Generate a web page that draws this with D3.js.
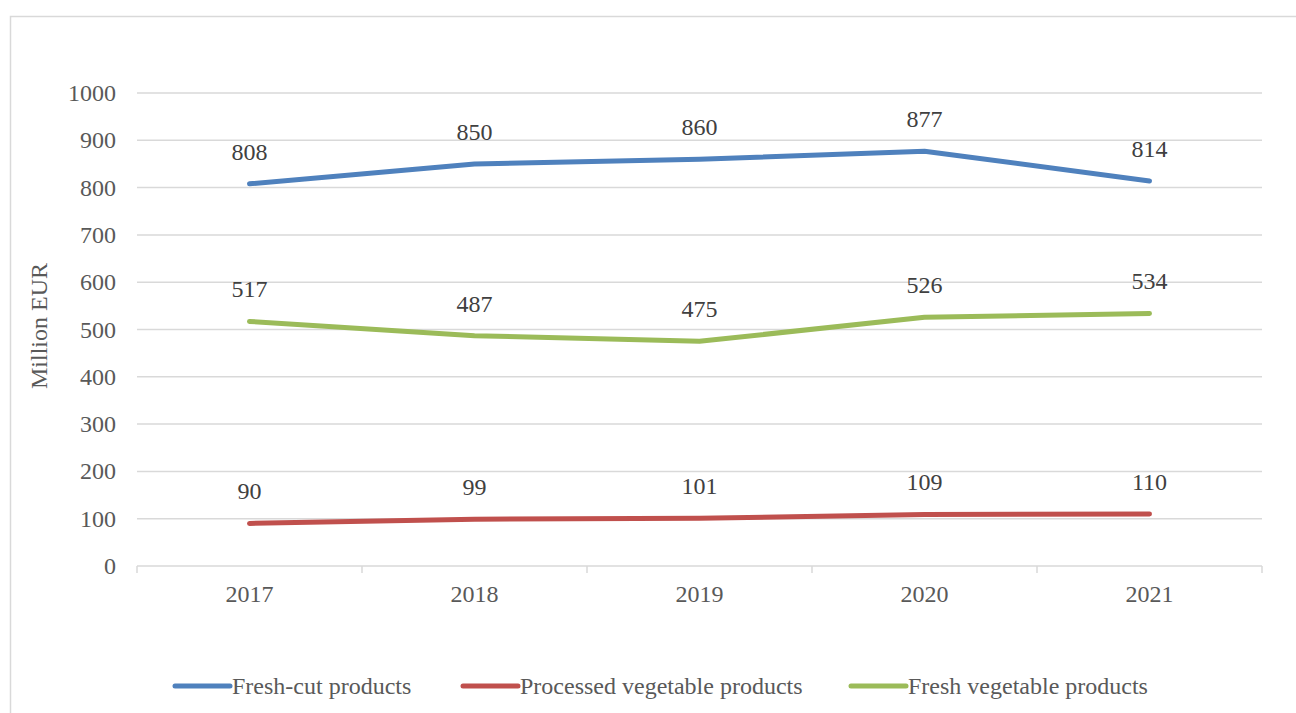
<!DOCTYPE html>
<html><head><meta charset="utf-8">
<script src="https://cdn.jsdelivr.net/npm/d3@7"></script>
<style>body{margin:0;background:#fff;} svg{display:block;} svg text{font-family:"Liberation Serif","Times New Roman",serif;}</style>
</head><body>
<svg id="c" width="1296" height="713"></svg>
<script>
const years = ["2017","2018","2019","2020","2021"];
const freshCut = [808, 850, 860, 877, 814];
const processedVeg = [90, 99, 101, 109, 110];
const freshVeg = [517, 487, 475, 526, 534];
const seriesNames = ["Fresh-cut products","Processed vegetable products","Fresh vegetable products"];
const seriesColors = ["#4f81bd","#c0504d","#9bbb59"];
const yTicks = [0,100,200,300,400,500,600,700,800,900,1000];

(function(){
const series = [freshCut, processedVeg, freshVeg].map((v,i)=>({name:seriesNames[i], color:seriesColors[i], values:v}));

const svg = d3.select("#c");
const fs = 24;
const txt = "#595959";
svg.append("rect").attr("x",10.5).attr("y",16.5).attr("width",1300).attr("height",720)
  .attr("fill","none").attr("stroke","#d9d9d9").attr("stroke-width",1.5);

const pL=137, pR=1262, pT=93, pB=566;
const x = d3.scaleBand().domain(years).range([pL,pR]);
const y = d3.scaleLinear().domain([0,1000]).range([pB,pT]);

svg.append("g").selectAll("line").data(yTicks).join("line")
  .attr("x1",pL).attr("x2",pR).attr("y1",d=>y(d)).attr("y2",d=>y(d))
  .attr("stroke","#d9d9d9").attr("stroke-width",1.5);
svg.append("g").selectAll("text").data(yTicks).join("text")
  .attr("x",116).attr("y",d=>y(d)+8).attr("text-anchor","end")
  .attr("font-size",fs).attr("fill",txt).text(d=>d);
const tickPos = years.map(d=>x(d)).concat([pR]);
svg.append("g").selectAll("line").data(tickPos).join("line")
  .attr("x1",d=>d).attr("x2",d=>d).attr("y1",pB).attr("y2",pB+7)
  .attr("stroke","#d9d9d9").attr("stroke-width",1.5);
svg.append("g").selectAll("text").data(years).join("text")
  .attr("x",d=>x(d)+x.bandwidth()/2).attr("y",602).attr("text-anchor","middle")
  .attr("font-size",fs).attr("fill",txt).text(d=>d);
svg.append("text").attr("transform","translate(47,326) rotate(-90)").attr("text-anchor","middle")
  .attr("font-size",fs).attr("fill",txt).text("Million EUR");

const line = d3.line().x((d,i)=>x(years[i])+x.bandwidth()/2).y(d=>y(d));
series.forEach(s=>{
  svg.append("path").datum(s.values).attr("d",line).attr("fill","none")
    .attr("stroke",s.color).attr("stroke-width",5).attr("stroke-linecap","round").attr("stroke-linejoin","round");
  svg.append("g").selectAll("text").data(s.values).join("text")
    .attr("x",(d,i)=>x(years[i])+x.bandwidth()/2).attr("y",d=>y(d)-24).attr("text-anchor","middle")
    .attr("font-size",fs).attr("fill","#404040").text(d=>d);
});

const legX = [175, 463, 851];
series.forEach((s,i)=>{
  const g = svg.append("g");
  g.append("line").attr("x1",legX[i]).attr("x2",legX[i]+55).attr("y1",686).attr("y2",686)
    .attr("stroke",s.color).attr("stroke-width",5).attr("stroke-linecap","round");
  g.append("text").attr("x",legX[i]+57).attr("y",694)
    .attr("font-size",fs).attr("fill",txt).text(s.name);
});
})();
</script>
</body></html>
